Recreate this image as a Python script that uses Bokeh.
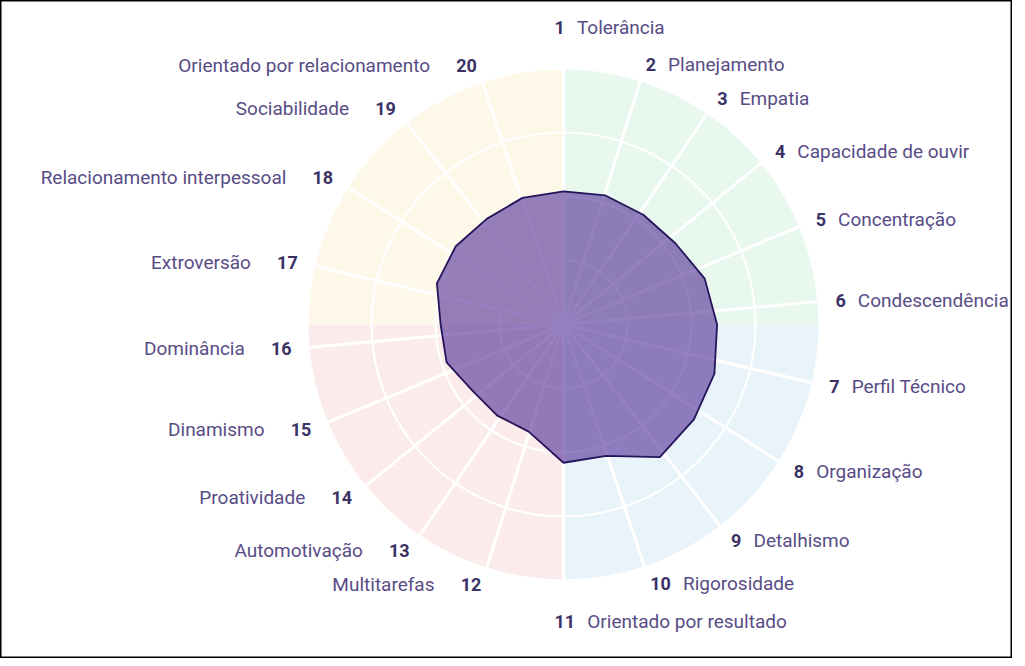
import numpy as np
from bokeh.plotting import figure
from bokeh.models import Range1d, ColumnDataSource
from bokeh.core.properties import value
from bokeh.embed import file_html
from bokeh.resources import INLINE

# ---------------- data ----------------
numbers = list(range(1, 21))
labels = ["Tolerância", "Planejamento", "Empatia", "Capacidade de ouvir",
          "Concentração", "Condescendência", "Perfil Técnico", "Organização",
          "Detalhismo", "Rigorosidade", "Orientado por resultado", "Multitarefas",
          "Automotivação", "Proatividade", "Dinamismo", "Dominância",
          "Extroversão", "Relacionamento interpessoal", "Sociabilidade",
          "Orientado por relacionamento"]
scores = [52, 53, 53, 54, 58, 60, 62, 63, 64, 54,
          54, 44, 44, 44, 48, 48, 52, 52, 51, 52]
ring_levels = [25, 50, 75, 100]
max_score = 100
# quadrant backgrounds: top-right, bottom-right, bottom-left, top-left
quadrant_colors = ["#e8f8ee", "#e8f3fa", "#fbeceb", "#fef8e9"]

# ---------------- layout / style ----------------
W, H = 1012, 658
CX, CY = 563, 324          # centre, pixels from left / top of the figure
R = 256                    # outer radius in px
SHEAR = 0.09               # tilt of the spoke/label ring
LABEL_R = 273
FONT = "Roboto"
NAME_COLOR = "#584c86"
NUM_COLOR = "#3b3266"
NAME_SIZE = "19px"
NUM_SIZE = "18px"
DIGIT_W = 10.4

p = figure(width=W, height=H, output_backend="svg", toolbar_location=None,
           x_range=Range1d(-CX, W - CX), y_range=Range1d(-(H - CY), CY),
           min_border=0, background_fill_color="white")
p.axis.visible = False
p.grid.visible = False
p.outline_line_color = "black"
p.outline_line_width = 2

# quadrant wedges (math angles, anticlockwise from +x)
starts = [0, -np.pi / 2, np.pi, np.pi / 2]
for s, c in zip(starts, quadrant_colors):
    p.wedge(x=0, y=0, radius=R, start_angle=s, end_angle=s + np.pi / 2,
            direction="anticlock", fill_color=c, line_color=None)

n = len(numbers)
theta = np.arange(n) * 2 * np.pi / n   # clockwise from top
ux, uy = np.sin(theta), np.cos(theta)
# tilted directions for spokes and labels
sx, sy = ux, uy + SHEAR * ux
norm = np.hypot(sx, sy)
sx, sy = sx / norm, sy / norm

# rings
for lv in ring_levels:
    p.circle(x=0, y=0, radius=lv / max_score * R, fill_color=None,
             line_color="white", line_width=2.2)

# spokes
p.segment(x0=np.zeros(n), y0=np.zeros(n), x1=sx * R, y1=sy * R,
          line_color="white", line_width=3)

# data polygon (regular angles)
rad = np.array(scores) / max_score * R
p.patch(x=list(ux * rad), y=list(uy * rad), fill_color="#4a2590",
        fill_alpha=0.58, line_color="#24145a", line_width=1.8)

# labels
right_num = dict(x=[], y=[], t=[])
right_name = dict(x=[], y=[], t=[])
left_num = dict(x=[], y=[], t=[])
left_name = dict(x=[], y=[], t=[])
for i in range(n):
    vertical = abs(uy[i]) > 0.99
    r = LABEL_R + (24 if vertical else 0)
    ax, ay = sx[i] * r, sy[i] * r
    num = str(numbers[i])
    if vertical:
        ax = -9
    if ux[i] > -0.01:
        right_num["x"].append(ax); right_num["y"].append(ay); right_num["t"].append(num)
        right_name["x"].append(ax + len(num) * DIGIT_W + 12)
        right_name["y"].append(ay); right_name["t"].append(labels[i])
    else:
        left_num["x"].append(ax); left_num["y"].append(ay); left_num["t"].append(num)
        left_name["x"].append(ax - len(num) * DIGIT_W - 26)
        left_name["y"].append(ay); left_name["t"].append(labels[i])

base = dict(text_font=value(FONT), text_baseline="middle")
p.text(x="x", y="y", text="t", source=ColumnDataSource(right_num), text_align="left",
       text_color=NUM_COLOR, text_font_style="bold", text_font_size=NUM_SIZE, **base)
p.text(x="x", y="y", text="t", source=ColumnDataSource(right_name), text_align="left",
       text_color=NAME_COLOR, text_font_size=NAME_SIZE, **base)
p.text(x="x", y="y", text="t", source=ColumnDataSource(left_num), text_align="right",
       text_color=NUM_COLOR, text_font_style="bold", text_font_size=NUM_SIZE, **base)
p.text(x="x", y="y", text="t", source=ColumnDataSource(left_name), text_align="right",
       text_color=NAME_COLOR, text_font_size=NAME_SIZE, **base)

open("out.html", "w").write(file_html(p, INLINE))
